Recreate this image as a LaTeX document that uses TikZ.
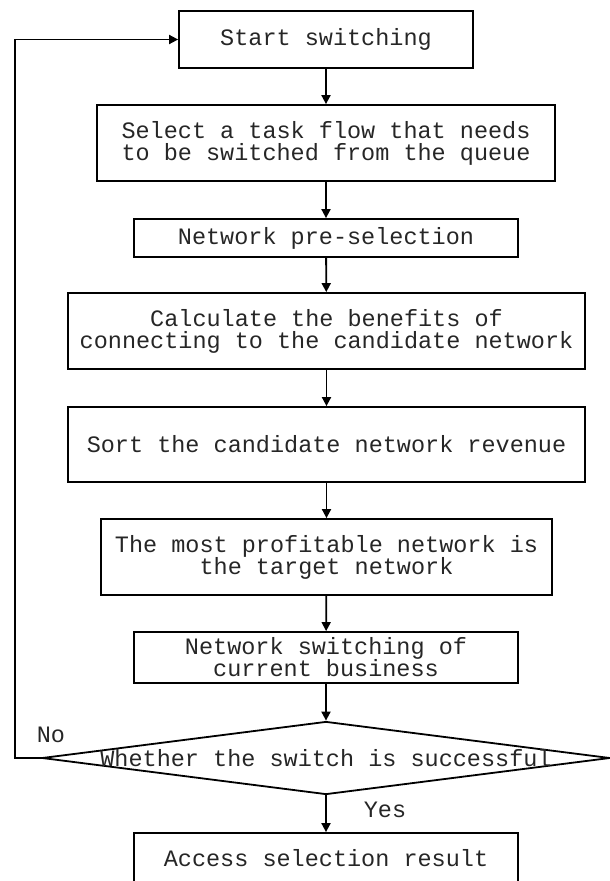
\documentclass[tikz,border=0pt]{standalone}
\usepackage{fontspec}
\usepackage{tikz}
\usetikzlibrary{arrows.meta,shapes.geometric,positioning}
\newfontfamily\flowfont{Liberation Mono}
\tikzset{
    every picture/.style={font=\flowfont},
    every node/.style={font=\flowfont\fontsize{23.5}{22}\selectfont, text=black!85},
    stepbox/.style={draw, line width=1.8pt, align=center, inner sep=0pt},
    decision/.style={draw, diamond, line width=1.8pt, inner sep=0pt},
    flow/.style={line width=1.8pt, -{Triangle[length=9pt,width=9pt]}}
}

\begin{document}
\begin{tikzpicture}[x=1pt,y=-1pt]
    \clip (0,0) rectangle (610,881);
    \node[stepbox, minimum width=294pt, minimum height=57pt] (start) at (326,39.5) {Start switching};
    \node[stepbox, minimum width=458pt, minimum height=76pt] (select) at (326,143) {Select a task flow that needs\\to be switched from the queue};
    \node[stepbox, minimum width=384pt, minimum height=38pt] (presel) at (326,238) {Network pre-selection};
    \node[stepbox, minimum width=517pt, minimum height=76pt] (benefit) at (326.5,331) {Calculate the benefits of\\connecting to the candidate network};
    \node[stepbox, minimum width=517pt, minimum height=75pt] (sortrev) at (326.5,444.5) {Sort the candidate network revenue};
    \node[stepbox, minimum width=451pt, minimum height=76pt] (target) at (326.5,557) {The most profitable network is\\the target network};
    \node[stepbox, minimum width=384pt, minimum height=51pt] (switchnet) at (326,657.5) {Network switching of\\current business};
    \node[decision, minimum width=568pt, minimum height=73pt,
          label={center:Whether the switch is successful}] (decide) at (326,758) {};
    \node[stepbox, minimum width=384pt, minimum height=50pt] (result) at (326,858) {Access selection result};
    \node (no) at (51,735) {No};
    \node (yes) at (385,810) {Yes};
    \coordinate (loop) at (15,758);

    \draw[flow] (start) -- (select);
    \draw[flow] (select) -- (presel);
    \draw[flow] (presel) -- (benefit);
    \draw[flow] (benefit) -- (sortrev);
    \draw[flow] (sortrev) -- (target);
    \draw[flow] (target) -- (switchnet);
    \draw[flow] (switchnet) -- (decide);
    \draw[flow] (decide) -- (result);
    \draw[flow] (decide.west) -- (loop) |- (start.west);
\end{tikzpicture}
\end{document}
